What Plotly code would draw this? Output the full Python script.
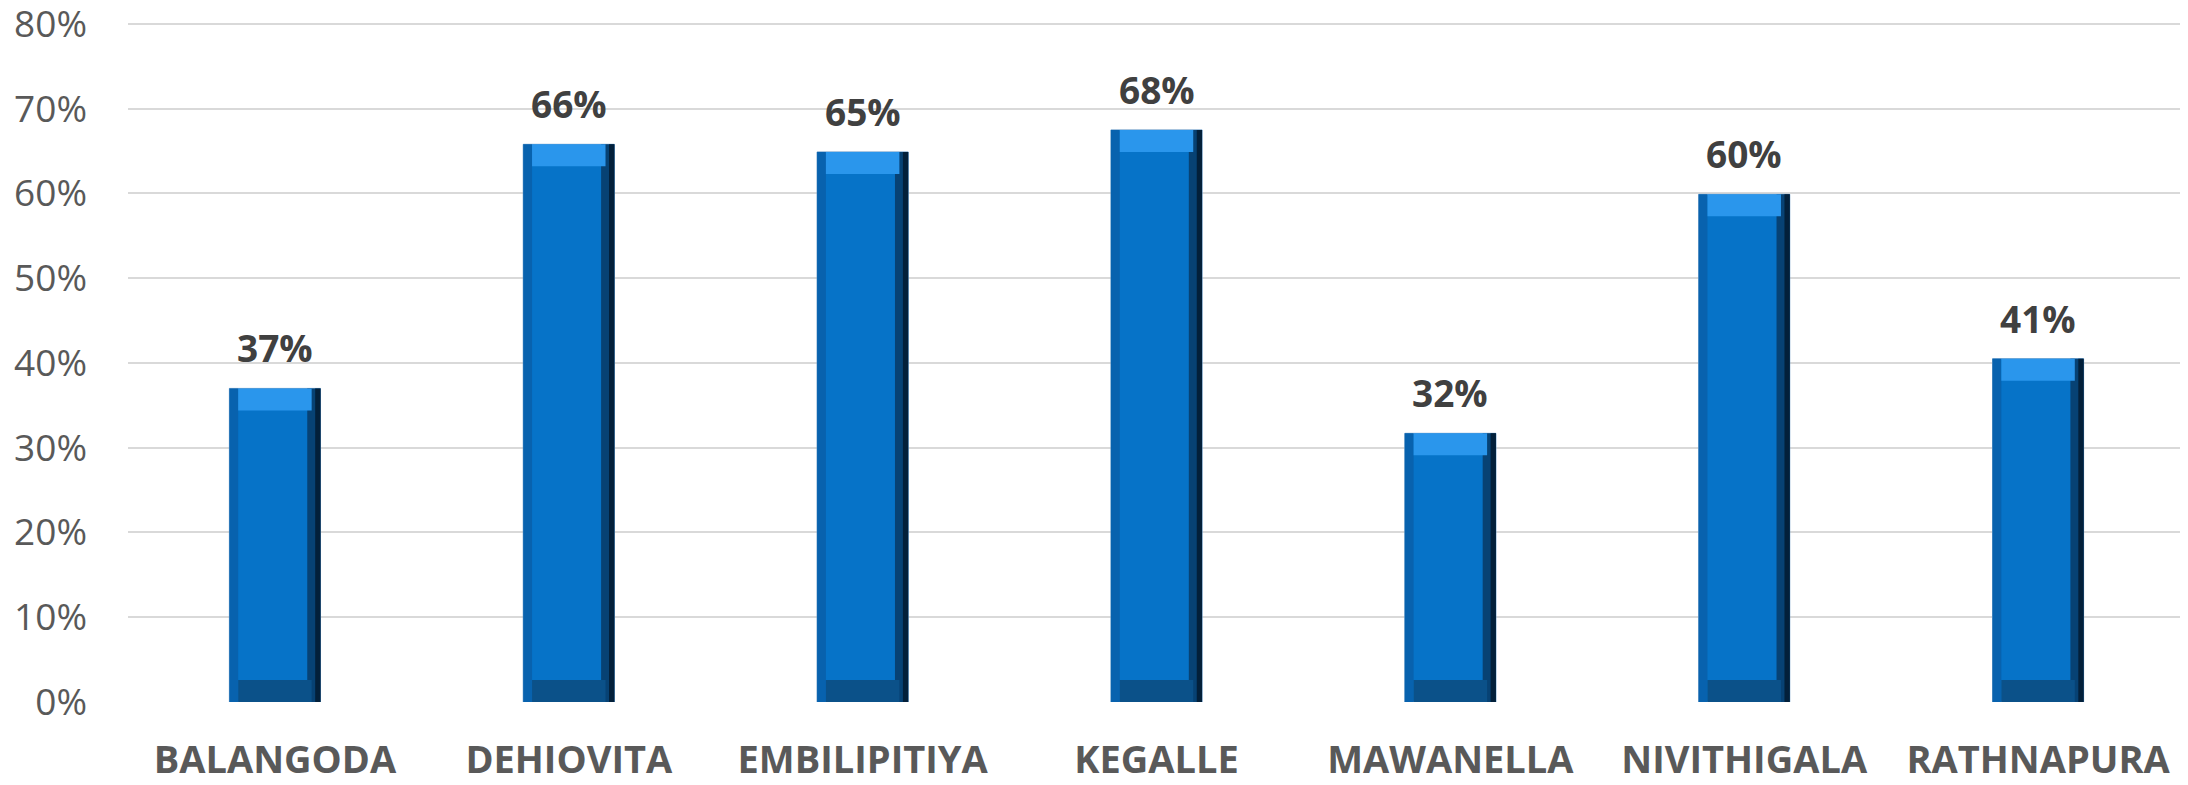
import plotly.graph_objects as go

categories = ["BALANGODA", "DEHIOVITA", "EMBILIPITIYA", "KEGALLE", "MAWANELLA", "NIVITHIGALA", "RATHNAPURA"]
values = [37.0, 65.8, 64.9, 67.5, 31.7, 59.9, 40.5]
labels = ["37%", "66%", "65%", "68%", "32%", "60%", "41%"]
y_ticks = [0, 10, 20, 30, 40, 50, 60, 70, 80]

BW = 0.31
bevel = 2.6

fig = go.Figure()
# main bar body
fig.add_trace(go.Bar(x=categories, y=values, width=BW, offset=-BW / 2,
                     marker=dict(color="#0673C8", line=dict(color="#6C9CC8", width=1)),
                     hoverinfo="skip", showlegend=False))
# left edge
fig.add_trace(go.Bar(x=categories, y=values, width=0.03, offset=-BW / 2,
                     marker=dict(color="#0862AE", line=dict(width=0)),
                     hoverinfo="skip", showlegend=False))
# right dark edge
fig.add_trace(go.Bar(x=categories, y=values, width=0.045, offset=BW / 2 - 0.045,
                     marker=dict(color="#074274", line=dict(width=0)),
                     hoverinfo="skip", showlegend=False))
fig.add_trace(go.Bar(x=categories, y=values, width=0.018, offset=BW / 2 - 0.018,
                     marker=dict(color="#03203A", line=dict(width=0)),
                     hoverinfo="skip", showlegend=False))
# top bevel
fig.add_trace(go.Bar(x=categories, y=[bevel] * len(values), base=[v - bevel for v in values],
                     width=BW - 0.06, offset=-BW / 2 + 0.03,
                     marker=dict(color="#2A96EC", line=dict(width=0)),
                     hoverinfo="skip", showlegend=False))
# bottom bevel
fig.add_trace(go.Bar(x=categories, y=[bevel] * len(values), base=[0] * len(values),
                     width=BW - 0.06, offset=-BW / 2 + 0.03,
                     marker=dict(color="#0B5189", line=dict(width=0)),
                     hoverinfo="skip", showlegend=False))

for c, v, t in zip(categories, values, labels):
    fig.add_annotation(x=c, y=v, text="<b>%s</b>" % t, showarrow=False,
                       yanchor="bottom", yshift=13,
                       font=dict(family="Open Sans", size=37, color="#404040"))

fig.update_layout(
    width=2180, height=777,
    margin=dict(l=120, r=3, t=13, b=83),
    paper_bgcolor="white", plot_bgcolor="white",
    barmode="overlay",
    font=dict(family="Open Sans", color="#595959"),
)
fig.update_xaxes(
    tickfont=dict(family="Open Sans", size=38, color="#595959"),
    tickvals=categories, ticktext=["<b>%s</b>" % c for c in categories],
    showgrid=False, showline=False, ticks="", ticklabelstandoff=32,
    automargin=False, ticklabeloverflow="allow",
)
fig.update_yaxes(
    range=[0, 80.35], tickvals=y_ticks, ticktext=["%d%%" % t for t in y_ticks],
    tickfont=dict(family="Open Sans", size=37, color="#595959"),
    showgrid=True, gridcolor="#D9D9D9", gridwidth=2,
    zeroline=False, showline=False, ticks="", ticklabelstandoff=40,
    automargin=False, ticklabeloverflow="allow",
)

fig.write_html("out.html")
